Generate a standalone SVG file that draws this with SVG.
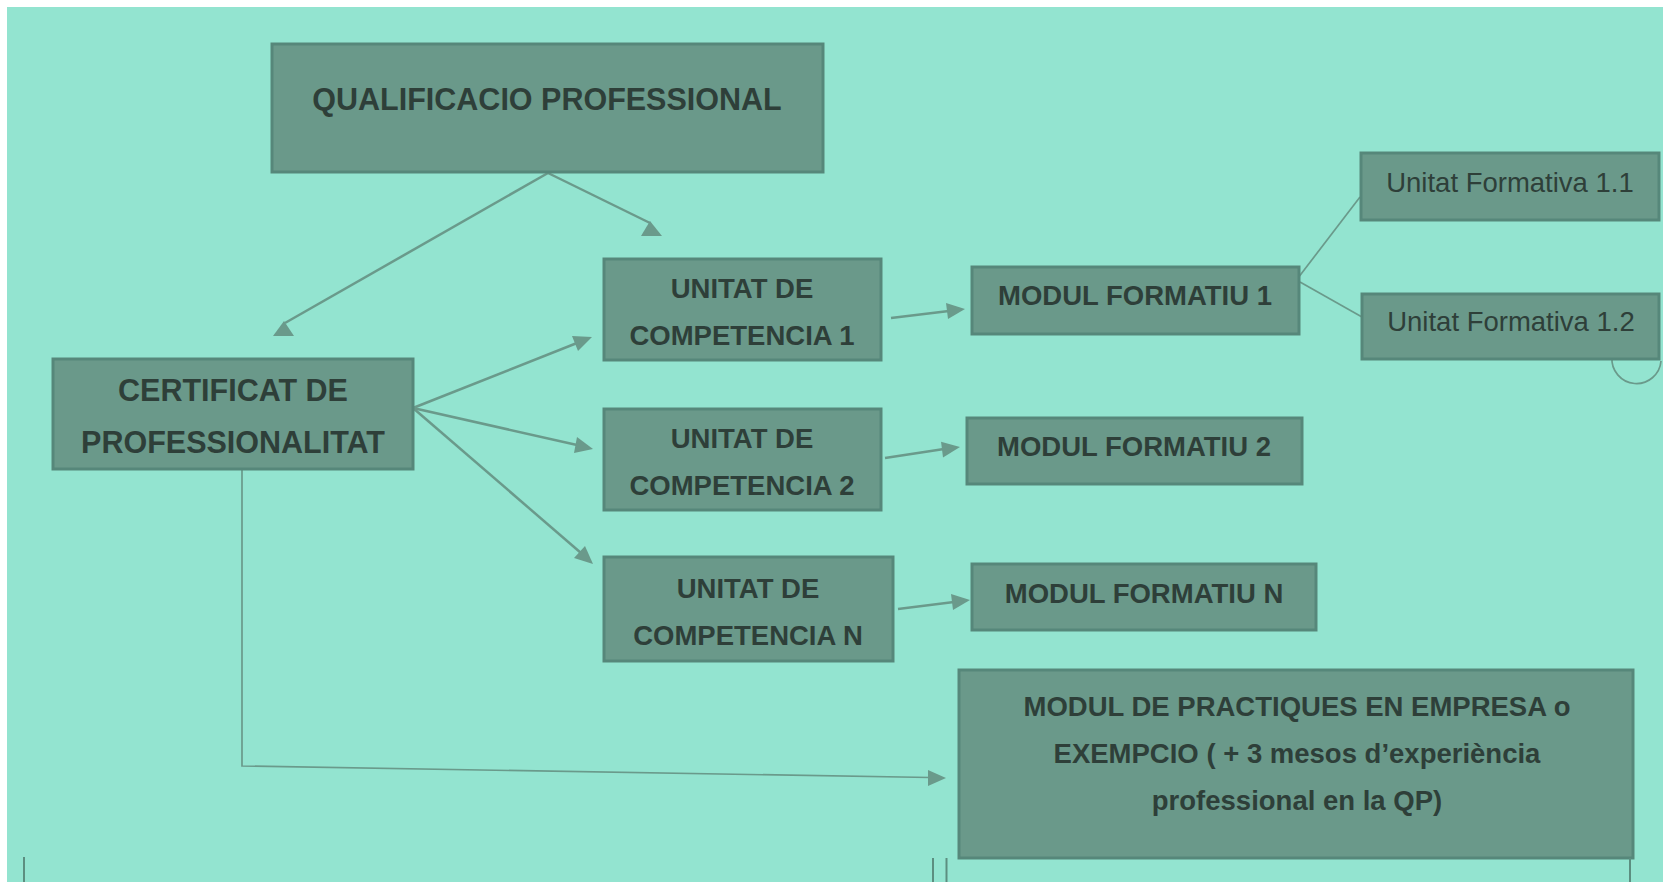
<svg xmlns="http://www.w3.org/2000/svg" width="1663" height="882" viewBox="0 0 1663 882">
<style>
.box{fill:#6A998A;stroke:#56877A;stroke-width:3}
.t{font-family:"Liberation Sans",Arial,sans-serif;font-weight:bold;font-size:27.5px;fill:#2E3F39;text-anchor:middle}
.r{font-weight:normal}
.ln{fill:none;stroke:#6A9A8B;stroke-width:2.5}
.thin{fill:none;stroke:#6A9A8B;stroke-width:1.7}
.ah{fill:#6A9A8B}
.edge{stroke:#5C8E80;stroke-width:2}
</style>
<rect x="0" y="0" width="1663" height="882" fill="#FFFFFF"/>
<rect x="7" y="7" width="1656" height="875" fill="#93E4D0"/>

<g id="connectors">
  <line class="ln" x1="548" y1="173" x2="285" y2="323"/>
  <polygon class="ah" points="284,321 273,336 294,336"/>
  <line class="ln" x1="548" y1="173" x2="650" y2="223"/>
  <polygon class="ah" points="650,221 641,236 662,236"/>
  <line class="ln" x1="413" y1="408" x2="577" y2="343"/>
  <polygon class="ah" points="592,337 578,351 572,336"/>
  <line class="ln" x1="413" y1="408" x2="577" y2="445"/>
  <polygon class="ah" points="593,449 574,453 577,437"/>
  <line class="ln" x1="413" y1="408" x2="581" y2="553"/>
  <polygon class="ah" points="593,564 574,558 585,546"/>
  <line class="ln" x1="891" y1="318" x2="949" y2="311"/>
  <polygon class="ah" points="965,309 948,319 946,303"/>
  <line class="ln" x1="885" y1="458" x2="944" y2="449"/>
  <polygon class="ah" points="960,447 943,457.5 941,441.7"/>
  <line class="ln" x1="898" y1="609" x2="954" y2="602"/>
  <polygon class="ah" points="970,600 953,610 951,594"/>
  <polyline class="thin" points="242,469 242,766 930,777.5"/>
  <polygon class="ah" points="946,778 928,786 928,770"/>
  <line class="thin" x1="1298" y1="278" x2="1360" y2="197"/>
  <line class="thin" x1="1300" y1="282" x2="1362" y2="317"/>
  <path class="thin" d="M 1612 357 A 24 24 0 0 0 1661 361"/>
</g>

<g id="qualificacio">
  <rect class="box" x="272" y="44" width="551" height="128"/>
  <text class="t" x="547" y="110" style="font-size:30.5px">QUALIFICACIO PROFESSIONAL</text>
</g>
<g id="certificat">
  <rect class="box" x="53" y="359" width="360" height="110"/>
  <text class="t" x="233" y="401" style="font-size:30.5px">CERTIFICAT DE</text>
  <text class="t" x="233" y="453" style="font-size:30.5px">PROFESSIONALITAT</text>
</g>
<g id="uc1">
  <rect class="box" x="604" y="259" width="277" height="101"/>
  <text class="t" x="742" y="298">UNITAT DE</text>
  <text class="t" x="742" y="345">COMPETENCIA 1</text>
</g>
<g id="uc2">
  <rect class="box" x="604" y="409" width="277" height="101"/>
  <text class="t" x="742" y="448">UNITAT DE</text>
  <text class="t" x="742" y="495">COMPETENCIA 2</text>
</g>
<g id="ucn">
  <rect class="box" x="604" y="557" width="289" height="104"/>
  <text class="t" x="748" y="598">UNITAT DE</text>
  <text class="t" x="748" y="645">COMPETENCIA N</text>
</g>
<g id="mf1">
  <rect class="box" x="972" y="267" width="327" height="67"/>
  <text class="t" x="1135" y="305">MODUL FORMATIU 1</text>
</g>
<g id="mf2">
  <rect class="box" x="967" y="418" width="335" height="66"/>
  <text class="t" x="1134" y="456">MODUL FORMATIU 2</text>
</g>
<g id="mfn">
  <rect class="box" x="972" y="564" width="344" height="66"/>
  <text class="t" x="1144" y="603">MODUL FORMATIU N</text>
</g>
<g id="uf11">
  <rect class="box" x="1361" y="153" width="298" height="67"/>
  <text class="t r" x="1510" y="192">Unitat Formativa 1.1</text>
</g>
<g id="uf12">
  <rect class="box" x="1362" y="294" width="297" height="65"/>
  <text class="t r" x="1511" y="331">Unitat Formativa 1.2</text>
</g>
<g id="practiques">
  <rect class="box" x="959" y="670" width="674" height="188"/>
  <text class="t" x="1297" y="716">MODUL DE PRACTIQUES EN EMPRESA o</text>
  <text class="t" x="1297" y="763">EXEMPCIO ( + 3 mesos d’experiència</text>
  <text class="t" x="1297" y="810">professional en la QP)</text>
</g>

<g id="edges">
  <line class="edge" x1="24" y1="857" x2="24" y2="882"/>
  <line class="edge" x1="933" y1="858" x2="933" y2="882"/>
  <line class="edge" x1="946.5" y1="858" x2="946.5" y2="882"/>
  <line class="edge" x1="1630" y1="858" x2="1630" y2="882"/>
</g>
</svg>
